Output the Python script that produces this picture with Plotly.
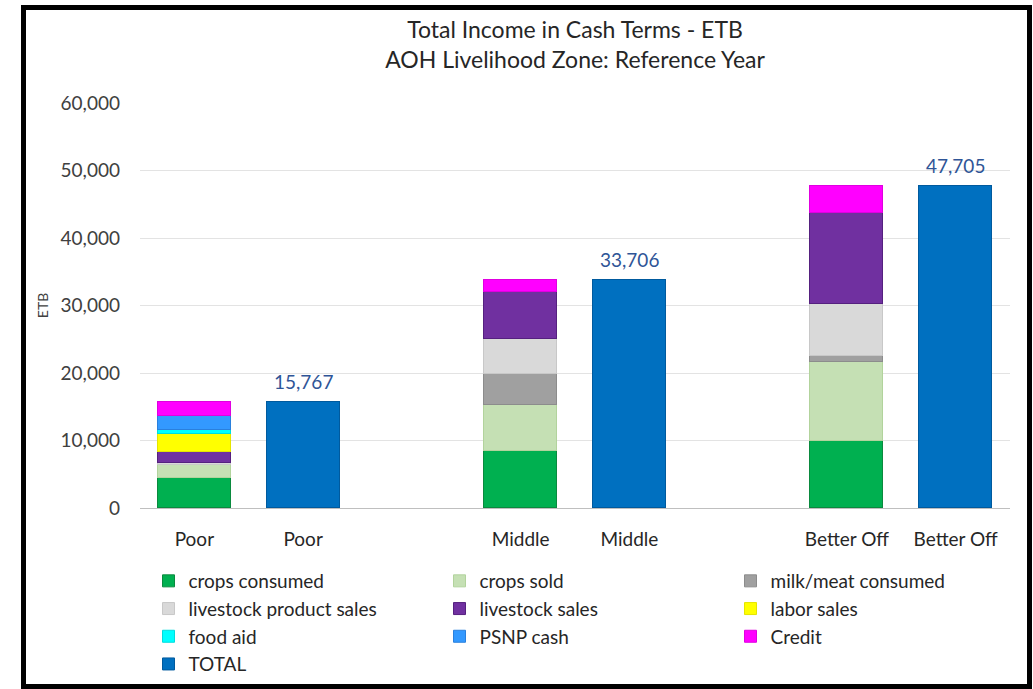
import plotly.graph_objects as go

# ---- data ----
groups = ["Poor", "Middle", "Better Off"]
series_names = ["crops consumed", "crops sold", "milk/meat consumed",
                "livestock product sales", "livestock sales", "labor sales",
                "food aid", "PSNP cash", "Credit"]
crops_consumed = [4400, 8400, 10000]
crops_sold = [2000, 6850, 11600]
milk_meat_consumed = [0, 4550, 900]
livestock_product_sales = [300, 5200, 7700]
livestock_sales = [1600, 6950, 13500]
labor_sales = [2700, 0, 0]
food_aid = [600, 0, 0]
psnp_cash = [2100, 0, 0]
credit = [2067, 1756, 4005]
totals = [15767, 33706, 47705]

series_values = [crops_consumed, crops_sold, milk_meat_consumed,
                 livestock_product_sales, livestock_sales, labor_sales,
                 food_aid, psnp_cash, credit]
series_colors = ["#00B050", "#C5E0B4", "#A0A0A0", "#D9D9D9", "#7030A0",
                 "#FFFF00", "#00FFFF", "#3399FF", "#FF00FF"]
series_lines = ["#0A8A3E", "#B2D39C", "#8C8C8C", "#C8C8C8", "#55207F",
                "#E5E500", "#00DDDD", "#2A80DD", "#E000E0"]
total_color = "#0070C0"

FONT = "Lato"
W, H = 1033, 689
ML, MR, MT, MB = 140, 23, 103, 181
PW, PH = W - ML - MR, H - MT - MB

stack_x = [3 * i for i in range(len(groups))]
total_x = [3 * i + 1 for i in range(len(groups))]

fig = go.Figure()
for name, vals, col, lc in zip(series_names, series_values, series_colors, series_lines):
    fig.add_trace(go.Bar(
        x=stack_x, y=vals, name=name, width=0.67,
        marker=dict(color=col, line=dict(color=lc, width=1)),
    ))
fig.add_trace(go.Bar(
    x=total_x, y=totals, name="TOTAL", width=0.67,
    marker=dict(color=total_color, line=dict(color="#005A9E", width=1)),
))
for tx, tv in zip(total_x, totals):
    fig.add_annotation(
        x=tx, y=tv, xref="x", yref="y", text=f"{tv:,}", showarrow=False,
        yanchor="bottom", yshift=7,
        font=dict(family=FONT, size=19, color="#2F5597"),
    )

tickvals = []
ticktext = []
for g, sx, tx in zip(groups, stack_x, total_x):
    tickvals += [sx, tx]
    ticktext += [g, g]

def px_x(px):
    return (px - ML) / PW

def px_y(py):
    return (H - MB - py) / PH

fig.update_layout(
    width=W, height=H,
    margin=dict(l=ML, r=MR, t=MT, b=MB, autoexpand=False),
    barmode="stack",
    bargap=0,
    paper_bgcolor="white",
    plot_bgcolor="white",
    font=dict(family=FONT, color="#404040"),
    title=dict(
        text="Total Income in Cash Terms - ETB<br>AOH Livelihood Zone: Reference Year",
        x=0.5, xref="paper", xanchor="center",
        y=1 - 38 / H, yanchor="top",
        font=dict(family=FONT, size=23, color="#262626"),
    ),
    xaxis=dict(
        range=[-0.5, 7.5], tickvals=tickvals, ticktext=ticktext,
        tickfont=dict(family=FONT, size=19, color="#262626"),
        showgrid=False, showline=True, linecolor="#BFBFBF", linewidth=1,
        zeroline=False, ticks="", ticklabelstandoff=14,
    ),
    yaxis=dict(
        range=[0, 60000], dtick=10000, tickformat=",d",
        tickfont=dict(family=FONT, size=19, color="#404040"),
        showgrid=True, gridcolor="#E3E3E3", gridwidth=1,
        zeroline=False, ticks="", ticklabelstandoff=19,
        title=dict(text="ETB", font=dict(family=FONT, size=14, color="#404040"), standoff=8),
    ),
    legend=dict(
        orientation="h", x=px_x(148.5), xanchor="left", y=px_y(562), yanchor="top",
        font=dict(family=FONT, size=19, color="#262626"),
        entrywidth=246, entrywidthmode="pixels",
        bgcolor="rgba(0,0,0,0)",
        traceorder="normal", tracegroupgap=0, itemclick=False,
    ),
    showlegend=True,
)

fig.add_shape(
    type="rect", xref="paper", yref="paper",
    x0=px_x(23.5), x1=px_x(1029.5), y0=px_y(686.5), y1=px_y(7.5),
    line=dict(color="black", width=5), fillcolor="rgba(0,0,0,0)", layer="above",
)

fig.write_html("out.html")
